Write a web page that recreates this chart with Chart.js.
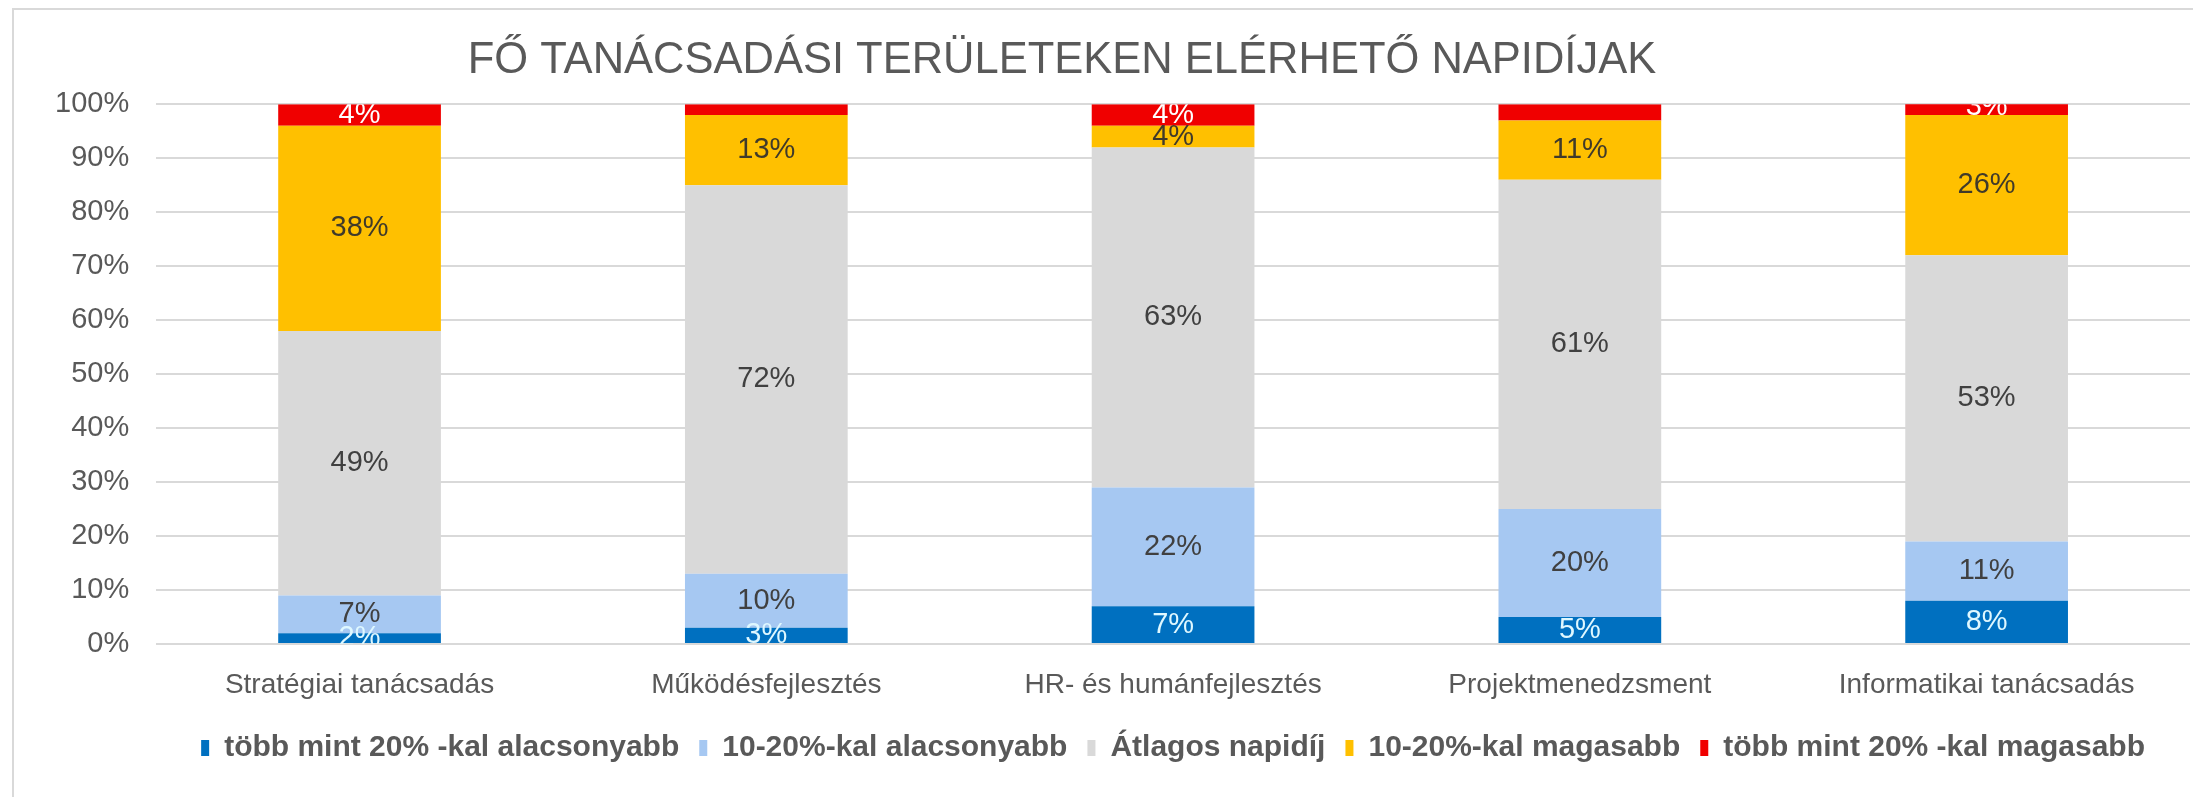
<!DOCTYPE html>
<html lang="hu">
<head>
<meta charset="utf-8">
<title>Fő tanácsadási területeken elérhető napidíjak</title>
<script src="https://cdn.jsdelivr.net/npm/chart.js@4.4.1/dist/chart.umd.min.js"></script>
<style>
    html, body { margin: 0; padding: 0; background: #fff; overflow: hidden; }
    #keret {
        position: absolute; left: 12px; top: 8px; right: 0; bottom: 0;
        border-left: 2px solid #d9d9d9; border-top: 2px solid #d9d9d9;
    }
    #grafico { position: absolute; left: 0; top: 0; }
</style>
</head>
<body>
<div id="keret"></div>
<canvas id="grafico" width="2193" height="797"></canvas>
<script>
// ======== DADOS ========
const categorias = ["Stratégiai tanácsadás", "Működésfejlesztés", "HR- és humánfejlesztés", "Projektmenedzsment", "Informatikai tanácsadás"];

const sorozatNevek = ["több mint 20% -kal alacsonyabb", "10-20%-kal alacsonyabb", "Átlagos napidíj", "10-20%-kal magasabb", "több mint 20% -kal magasabb"];

const tobbMint20Alacsonyabb = [2, 3, 7, 5, 8];
const alacsonyabb10_20 = [7, 10, 22, 20, 11];
const atlagos = [49, 72, 63, 61, 53];
const magasabb10_20 = [38, 13, 4, 11, 26];
const tobbMint20Magasabb = [4, 2, 4, 3, 3];

const yTickLabels = ["0%", "10%", "20%", "30%", "40%", "50%", "60%", "70%", "80%", "90%", "100%"];

// labels that are not shown in the picture: [series, category]
const semRotulo = [[4, 1], [4, 3]];

const cores = ["#0070c0", "#a6c8f2", "#d9d9d9", "#ffc000", "#f00000"];
const coresRotulo = ["#dff8ff", "#404040", "#404040", "#403a2a", "#ffffff"];

const FONTE = "'Liberation Sans', Arial, sans-serif";
const CINZA = "#595959";
const DESLOCA_TITULO = 69; // title sits a bit left of the canvas centre

// ======== RÓTULOS NAS BARRAS ========
const rotulos = {
    id: "rotulos",
    afterDatasetsDraw(chart) {
        const ctx = chart.ctx;
        const area = chart.chartArea;
        ctx.save();
        ctx.beginPath();
        ctx.rect(area.left, area.top, area.right - area.left, area.bottom - area.top);
        ctx.clip();
        ctx.font = "29px " + FONTE;
        ctx.textAlign = "center";
        ctx.textBaseline = "middle";
        chart.data.datasets.forEach((ds, i) => {
            const meta = chart.getDatasetMeta(i);
            meta.data.forEach((bar, j) => {
                if (semRotulo.some(p => p[0] === i && p[1] === j)) return;
                const { x, y, base } = bar.getProps(["x", "y", "base"], true);
                ctx.fillStyle = coresRotulo[i];
                ctx.fillText(ds.data[j] + "%", x, (y + base) / 2);
            });
        });
        ctx.restore();
    }
};

// ======== AJUSTE DE POSIÇÃO ========
const ajuste = {
    id: "ajuste",
    afterLayout(chart) {
        chart.titleBlock.left = 0;
        chart.titleBlock.right = chart.width - DESLOCA_TITULO;
        chart.legend.left = chart.chartArea.left;
    }
};

// ======== GRÁFICO ========
const series = [tobbMint20Alacsonyabb, alacsonyabb10_20, atlagos, magasabb10_20, tobbMint20Magasabb];

new Chart(document.getElementById("grafico").getContext("2d"), {
    type: "bar",
    data: {
        labels: categorias,
        datasets: series.map((valores, i) => ({
            label: sorozatNevek[i],
            data: valores,
            backgroundColor: cores[i],
            borderWidth: 0,
            categoryPercentage: 1,
            barPercentage: 0.4
        }))
    },
    options: {
        responsive: false,
        animation: false,
        devicePixelRatio: 1,
        layout: { padding: { left: 28, right: 3, top: 0, bottom: 24 } },
        scales: {
            x: {
                stacked: true,
                grid: { display: false },
                border: { display: false },
                ticks: { color: CINZA, font: { family: FONTE, size: 28 }, padding: 16, maxRotation: 0 },
                afterFit: eixo => { eixo.height = 69; }
            },
            y: {
                stacked: true,
                min: 0,
                max: 100,
                grid: { color: "#d9d9d9", lineWidth: 2, drawTicks: false },
                border: { display: false },
                ticks: {
                    stepSize: 10,
                    color: CINZA,
                    padding: 27,
                    font: { family: FONTE, size: 29 },
                    callback: (v, i) => yTickLabels[i]
                }
            }
        },
        plugins: {
            title: {
                display: true,
                text: "FŐ TANÁCSADÁSI TERÜLETEKEN ELÉRHETŐ NAPIDÍJAK",
                color: CINZA,
                font: { family: FONTE, size: 43.5, weight: "normal", lineHeight: 1.2 },
                padding: { top: 35, bottom: 17 }
            },
            legend: {
                position: "bottom",
                labels: {
                    color: CINZA,
                    font: { family: FONTE, size: 30, weight: "bold" },
                    boxWidth: 8,
                    boxHeight: 16,
                    padding: 20
                }
            },
            tooltip: { enabled: false }
        }
    },
    plugins: [rotulos, ajuste]
});
</script>
</body>
</html>
